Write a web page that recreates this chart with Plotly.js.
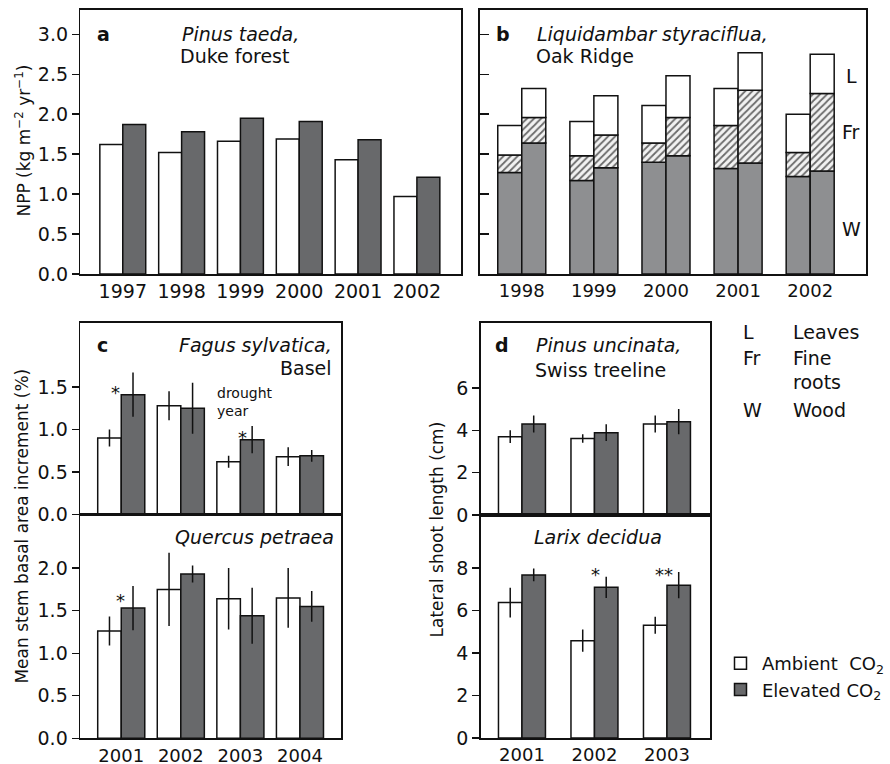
<!DOCTYPE html>
<html>
<head>
<meta charset="utf-8">
<script src="https://cdn.plot.ly/plotly-3.0.1.min.js"></script>
<style>html,body{margin:0;padding:0;background:#fff;overflow:hidden;width:890px;height:764px;}#chart{width:890px;height:764px;overflow:hidden;}</style>
</head>
<body>
<div id="chart"></div>
<script>
// ---------- DATA ----------
// Panel a: Pinus taeda, Duke forest (NPP, kg m-2 yr-1)
const yearsA = ['1997','1998','1999','2000','2001','2002'];
const nppAmbientA = [1.62,1.52,1.66,1.69,1.43,0.97];
const nppElevatedA = [1.87,1.78,1.95,1.91,1.68,1.21];

// Panel b: Liquidambar styraciflua, Oak Ridge (NPP components)
const yearsB = ['1998','1999','2000','2001','2002'];
const woodAmbientB = [1.27,1.17,1.40,1.32,1.22];
const rootsAmbientB = [0.22,0.31,0.24,0.54,0.30];
const leavesAmbientB = [0.37,0.43,0.47,0.46,0.48];
const woodElevatedB = [1.64,1.33,1.48,1.39,1.29];
const rootsElevatedB = [0.32,0.41,0.48,0.91,0.97];
const leavesElevatedB = [0.36,0.49,0.52,0.47,0.49];

// Panel c: Mean stem basal area increment (%)
const yearsC = ['2001','2002','2003','2004'];
const fagusAmbient = [0.90,1.28,0.62,0.68];
const fagusAmbientErr = [0.10,0.17,0.07,0.11];
const fagusElevated = [1.41,1.25,0.88,0.69];
const fagusElevatedErr = [0.26,0.30,0.16,0.07];
const quercusAmbient = [1.26,1.75,1.64,1.65];
const quercusAmbientErr = [0.17,0.43,0.36,0.35];
const quercusElevated = [1.53,1.93,1.44,1.55];
const quercusElevatedErr = [0.26,0.10,0.33,0.18];

// Panel d: Lateral shoot length (cm)
const yearsD = ['2001','2002','2003'];
const pinusAmbient = [3.70,3.61,4.30];
const pinusAmbientErr = [0.30,0.20,0.40];
const pinusElevated = [4.30,3.89,4.41];
const pinusElevatedErr = [0.40,0.40,0.60];
const larixAmbient = [6.37,4.58,5.30];
const larixAmbientErr = [0.70,0.52,0.40];
const larixElevated = [7.67,7.09,7.19];
const larixElevatedErr = [0.30,0.50,0.62];

// ---------- STYLE ----------
const W = 890, H = 764;
const FONT = 'DejaVu Sans, Liberation Sans, Arial, sans-serif';
const INK = '#111111';
const AMB = '#ffffff';
const ELEV = '#68696b';
const WOOD = '#8e8f91';
const LINE = {color: INK, width: 1.5};

const dx = (a, b) => [a / W, b / W];
const dy = (top, bot) => [1 - bot / H, 1 - top / H];
const px = v => v / W;
const py = v => 1 - v / H;

function bar(x, y, xa, ya, color, w, off, err, extra) {
  const t = {
    type: 'bar', x: x, y: y, xaxis: xa, yaxis: ya,
    width: w, offset: off,
    marker: {color: color, line: LINE},
    showlegend: false, hoverinfo: 'skip'
  };
  if (err) t.error_y = {type: 'data', array: err, visible: true, width: 0, thickness: 1.5, color: INK};
  return Object.assign(t, extra || {});
}

const wA = 0.39, wB = 0.333, wC = 0.395, wD = 0.324;
const add = (a, b) => a.map((v, i) => v + b[i]);
const hatch = {shape: '/', fgcolor: '#6a6a6a', bgcolor: '#f2f2f2', size: 5, solidity: 0.35};

const traces = [
  // a
  bar(yearsA, nppAmbientA, 'x', 'y', AMB, wA, -wA, null, {name: 'Ambient\u00a0 CO<sub>2</sub>', showlegend: true}),
  bar(yearsA, nppElevatedA, 'x', 'y', ELEV, wA, 0, null, {name: 'Elevated CO<sub>2</sub>', showlegend: true}),
  // b ambient
  bar(yearsB, woodAmbientB, 'x2', 'y2', WOOD, wB, -wB, null),
  bar(yearsB, rootsAmbientB, 'x2', 'y2', '#f2f2f2', wB, -wB, null, {base: woodAmbientB, marker: {color: '#f2f2f2', pattern: hatch, line: LINE}}),
  bar(yearsB, leavesAmbientB, 'x2', 'y2', '#ffffff', wB, -wB, null, {base: add(woodAmbientB, rootsAmbientB)}),
  // b elevated
  bar(yearsB, woodElevatedB, 'x2', 'y2', WOOD, wB, 0, null),
  bar(yearsB, rootsElevatedB, 'x2', 'y2', '#f2f2f2', wB, 0, null, {base: woodElevatedB, marker: {color: '#f2f2f2', pattern: hatch, line: LINE}}),
  bar(yearsB, leavesElevatedB, 'x2', 'y2', '#ffffff', wB, 0, null, {base: add(woodElevatedB, rootsElevatedB)}),
  // c
  bar(yearsC, fagusAmbient, 'x3', 'y3', AMB, wC, -wC, fagusAmbientErr),
  bar(yearsC, fagusElevated, 'x3', 'y3', ELEV, wC, 0, fagusElevatedErr),
  bar(yearsC, quercusAmbient, 'x4', 'y4', AMB, wC, -wC, quercusAmbientErr),
  bar(yearsC, quercusElevated, 'x4', 'y4', ELEV, wC, 0, quercusElevatedErr),
  // d
  bar(yearsD, pinusAmbient, 'x5', 'y5', AMB, wD, -wD, pinusAmbientErr),
  bar(yearsD, pinusElevated, 'x5', 'y5', ELEV, wD, 0, pinusElevatedErr),
  bar(yearsD, larixAmbient, 'x6', 'y6', AMB, wD, -wD, larixAmbientErr),
  bar(yearsD, larixElevated, 'x6', 'y6', ELEV, wD, 0, larixElevatedErr)
];

const xBase = {type: 'category', showline: true, linecolor: INK, linewidth: 1.6, mirror: true,
  showgrid: false, zeroline: false, ticks: '',
  tickfont: {size: 18, color: INK}, automargin: false, fixedrange: true};
const yBase = {showline: true, linecolor: INK, linewidth: 1.6, mirror: true, showgrid: false, zeroline: false,
  ticks: 'outside', ticklen: 7, tickwidth: 1.4, tickcolor: INK, tickfont: {size: 19, color: INK},
  automargin: false, fixedrange: true};

const layout = {
  width: W, height: H,
  margin: {l: 0, r: 0, t: 0, b: 0, pad: 0},
  paper_bgcolor: '#fff', plot_bgcolor: 'rgba(0,0,0,0)',
  font: {family: FONT, size: 19, color: INK},
  barmode: 'overlay',
  showlegend: true,
  legend: {x: px(733), y: py(645), xanchor: 'left', yanchor: 'top', bgcolor: 'rgba(0,0,0,0)',
    font: {size: 18, color: INK}, tracegroupgap: 0, traceorder: 'normal', itemwidth: 33},
  xaxis: Object.assign({}, xBase, {domain: dx(82, 470), range: [-0.72, 5.75], anchor: 'y', tickfont: {size: 19, color: INK}}),
  yaxis: Object.assign({}, yBase, {domain: dy(10, 274), range: [0, 3.304], tickvals: [0, 0.5, 1, 1.5, 2, 2.5, 3], tickformat: '.1f', anchor: 'x'}),
  xaxis2: Object.assign({}, xBase, {domain: dx(489.3, 883.3), range: [-0.58, 4.78], anchor: 'y2'}),
  yaxis2: Object.assign({}, yBase, {domain: dy(10, 274), range: [0, 3.304], tickvals: [0.5, 1, 1.5, 2, 2.5, 3], showticklabels: false, ticks: 'inside', ticklen: 9, anchor: 'x2'}),
  xaxis3: Object.assign({}, xBase, {domain: dx(81.7, 347.7), range: [-0.69, 3.69], showticklabels: false, anchor: 'y3'}),
  yaxis3: Object.assign({}, yBase, {domain: dy(323, 514.5), range: [0, 2.253], tickvals: [0, 0.5, 1, 1.5], tickformat: '.1f', anchor: 'x3'}),
  xaxis4: Object.assign({}, xBase, {domain: dx(81.7, 347.7), range: [-0.69, 3.69], anchor: 'y4'}),
  yaxis4: Object.assign({}, yBase, {domain: dy(514.5, 738.3), range: [0, 2.63], tickvals: [0, 0.5, 1, 1.5, 2], tickformat: '.1f', anchor: 'x4'}),
  xaxis5: Object.assign({}, xBase, {domain: dx(490, 724.3), range: [-0.57, 2.6], showticklabels: false, anchor: 'y5'}),
  yaxis5: Object.assign({}, yBase, {domain: dy(323, 515), range: [0, 9.07], tickvals: [0, 2, 4, 6], anchor: 'x5'}),
  xaxis6: Object.assign({}, xBase, {domain: dx(490, 724.3), range: [-0.57, 2.6], anchor: 'y6'}),
  yaxis6: Object.assign({}, yBase, {domain: dy(515, 738.0), range: [0, 10.49], tickvals: [0, 2, 4, 6, 8], anchor: 'x6'}),
  annotations: []
};

function txt(text, x, y, xanchor, opts) {
  return Object.assign({text: text, xref: 'paper', yref: 'paper', x: px(x), y: py(y),
    xanchor: xanchor || 'center', yanchor: 'middle', showarrow: false,
    font: {family: FONT, size: 19, color: INK}}, opts || {});
}
function star(text, xa, ya, x, y) {
  return {text: text, xref: xa, yref: ya, x: x, y: y, showarrow: false, xanchor: 'center', yanchor: 'middle',
    font: {family: FONT, size: 18, color: INK}};
}

layout.annotations.push(
  // axis titles
  txt('NPP (kg m<sup>\u22122</sup> yr<sup>\u22121</sup>)', 23, 141, 'center', {textangle: -90, font: {family: FONT, size: 17, color: INK}}),
  txt('Mean stem basal area increment (%)', 22, 526, 'center', {textangle: -90, font: {family: FONT, size: 17, color: INK}}),
  txt('Lateral shoot length (cm)', 445, 530, 'center', {textangle: -90, font: {family: FONT, size: 17, color: INK}}),
  // panel a
  txt('<b>a</b>', 106, 34),
  txt('<i>Pinus taeda,</i>', 245, 34),
  txt('Duke forest', 239, 56),
  // panel b
  txt('<b>b</b>', 513, 34),
  txt('<i>Liquidambar styraciflua,</i>', 545, 34, 'left'),
  txt('Oak Ridge', 544, 56, 'left'),
  txt('L', 868, 76), txt('Fr', 868, 132), txt('W', 868, 229),
  // panel c
  txt('<b>c</b>', 105, 345),
  txt('<i>Fagus sylvatica,</i>', 341, 345, 'right'),
  txt('Basel', 341, 368, 'right'),
  txt('<i>Quercus petraea</i>', 343, 537, 'right'),
  txt('drought<br>year', 219, 402, 'left', {align: 'left', font: {family: FONT, size: 14, color: INK}}),
  star('*', 'x3', 'y3', -0.09, 1.44),
  star('*', 'x3', 'y3', 2.03, 0.91),
  star('*', 'x4', 'y4', -0.01, 1.62),
  // panel d
  txt('<b>d</b>', 512, 345),
  txt('<i>Pinus uncinata,</i>', 620, 345),
  txt('Swiss treeline', 612, 370),
  txt('<i>Larix decidua</i>', 610, 537),
  star('*', 'x6', 'y6', 1.01, 7.67),
  star('**', 'x6', 'y6', 1.96, 7.67),
  // component key
  txt('L', 755, 332, 'left'), txt('Leaves', 806, 332, 'left'),
  txt('Fr', 755, 358, 'left'), txt('Fine', 806, 358, 'left'), txt('roots', 806, 382, 'left'),
  txt('W', 755, 410, 'left'), txt('Wood', 806, 410, 'left')
);

Plotly.newPlot('chart', traces, layout, {staticPlot: true, displayModeBar: false});
</script>
</body>
</html>
